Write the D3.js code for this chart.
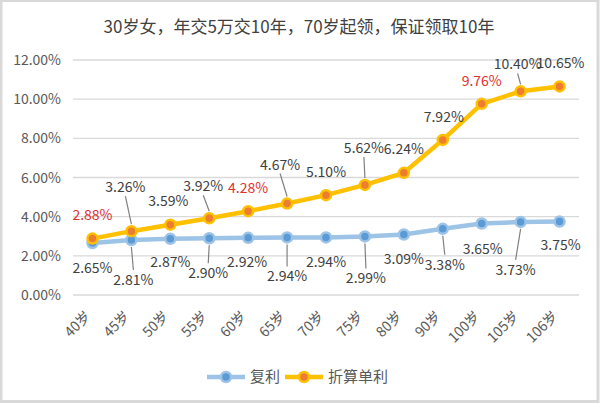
<!DOCTYPE html>
<html><head><meta charset="utf-8">
<script src="https://cdn.jsdelivr.net/npm/d3@7/dist/d3.min.js"></script>
<style>body{margin:0;background:#fff}svg{display:block}text{font-family:"Microsoft YaHei","Noto Sans CJK SC",sans-serif}</style>
</head><body><svg id="c" width="600" height="404"></svg>
<script>
const title = "30岁女，年交5万交10年，70岁起领，保证领取10年";
const categories = ["40岁","45岁","50岁","55岁","60岁","65岁","70岁","75岁","80岁","90岁","100岁","105岁","106岁"];
const compound = [2.65,2.81,2.87,2.90,2.92,2.94,2.94,2.99,3.09,3.38,3.65,3.73,3.75];
const simple = [2.88,3.26,3.59,3.92,4.28,4.67,5.10,5.62,6.24,7.92,9.76,10.40,10.65];
const yTicks = [0,2,4,6,8,10,12];
const seriesNames = ["复利","折算单利"];
// label offsets (dx, dy baseline from point), leader flag, red flag
const simpleLbl = [[0,-19,0,1],[-6,-39,1,0],[-2,-19,0,0],[-6,-27,1,0],[0,-18,0,1],[-7,-34,1,0],[0,-18,0,0],[-1,-32,1,0],[0,-19,0,0],[1,-18,0,0],[0,-18,0,1],[-3,-22,1,0],[1,-18,0,0]];
const compLbl = [[0,30,0],[2,45,1],[0,28,0],[-1,40,1],[-1,29,0],[0,44,1],[0,30,0],[1,47,1],[0,30,0],[2,41,1],[1,30,0],[-5,53,1],[1,28,0]];

const svg = d3.select("#c");
svg.append("rect").attr("x",1).attr("y",0.5).attr("width",597).attr("height",401).attr("fill","#fff").attr("stroke","#d9d9d9").attr("stroke-width",3);

const m = {l:73, r:579, t:60, b:295};
const x = d3.scaleBand().domain(categories).range([m.l,m.r]);
const y = d3.scaleLinear().domain([0,12]).range([m.b,m.t]);
const cx = c => x(c)+x.bandwidth()/2;

svg.append("text").attr("x",299).attr("y",33).attr("text-anchor","middle").attr("font-size",17).attr("fill","#404040").text(title);

// grid
svg.append("g").selectAll("line").data(yTicks).join("line")
  .attr("x1",m.l).attr("x2",m.r).attr("y1",d=>y(d)).attr("y2",d=>y(d))
  .attr("stroke","#d9d9d9").attr("stroke-width",1.3);
svg.append("g").selectAll("text").data(yTicks).join("text")
  .attr("x",61).attr("y",d=>y(d)+5).attr("text-anchor","end").attr("font-size",14).attr("fill","#595959")
  .text(d=>d3.format(".2f")(d)+"%");

// x labels
svg.append("g").selectAll("text").data(categories).join("text")
  .attr("transform",d=>`translate(${cx(d)-1},${m.b+22}) rotate(-45)`)
  .attr("text-anchor","end").attr("font-size",14).attr("fill","#595959").text(d=>d);

const line = d3.line().x((d,i)=>cx(categories[i])).y(d=>y(d));
function drawSeries(vals, lineCol, fill, stroke){
  svg.append("path").datum(vals).attr("d",line).attr("fill","none").attr("stroke",lineCol).attr("stroke-width",4.5).attr("stroke-linejoin","round");
  svg.append("g").selectAll("circle").data(vals).join("circle")
    .attr("cx",(d,i)=>cx(categories[i])).attr("cy",d=>y(d)).attr("r",5)
    .attr("fill",fill).attr("stroke",stroke).attr("stroke-width",2.5);
}
drawSeries(compound,"#9dc3e6","#5b9bd5","#9dc3e6");
drawSeries(simple,"#ffc000","#ed7d31","#ffc000");

// labels
function labels(vals, offs, above){
  const g = svg.append("g");
  vals.forEach((v,i)=>{
    const px = cx(categories[i]), py = y(v);
    const [dx,dy,lead,red] = offs[i];
    const tx = px+dx, ty = py+dy;
    if(lead){
      const y1 = above ? ty+4 : ty-15;
      const y2 = above ? py-7 : py+7;
      g.append("line").attr("x1",tx).attr("y1",y1).attr("x2",px).attr("y2",y2).attr("stroke","#808080").attr("stroke-width",1.2);
    }
    g.append("text").attr("x",tx).attr("y",ty).attr("text-anchor","middle").attr("font-size",14)
      .attr("fill",red?"#e03030":"#404040").text(d3.format(".2f")(v)+"%");
  });
}
labels(simple, simpleLbl, true);
labels(compound, compLbl, false);

// legend
const lg = svg.append("g");
const items = [{n:seriesNames[0],lc:"#9dc3e6",f:"#5b9bd5",x:207},{n:seriesNames[1],lc:"#ffc000",f:"#ed7d31",x:285}];
items.forEach(it=>{
  lg.append("line").attr("x1",it.x).attr("x2",it.x+38).attr("y1",377).attr("y2",377).attr("stroke",it.lc).attr("stroke-width",4.5);
  lg.append("circle").attr("cx",it.x+19).attr("cy",377).attr("r",5).attr("fill",it.f).attr("stroke",it.lc).attr("stroke-width",2.5);
  lg.append("text").attr("x",it.x+43).attr("y",382).attr("font-size",15).attr("fill","#595959").text(it.n);
});
</script></body></html>
